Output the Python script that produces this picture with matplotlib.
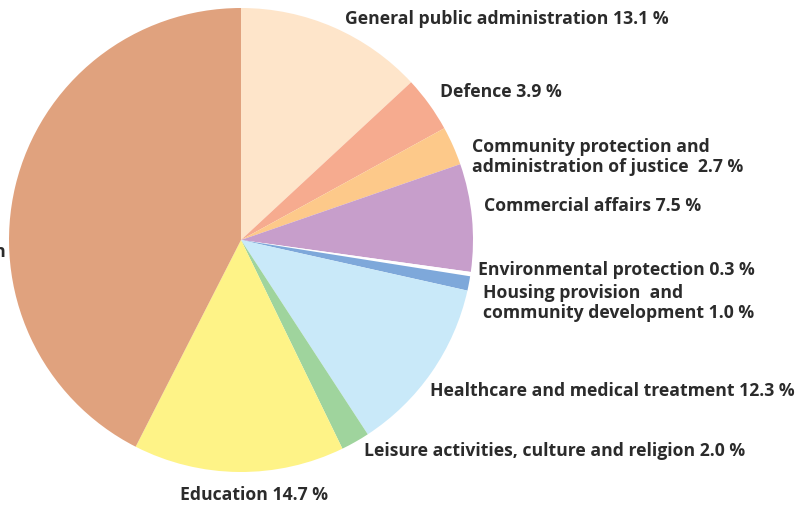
import matplotlib
matplotlib.use("Agg")
import matplotlib.pyplot as plt

categories = [
    "General public administration",
    "Defence",
    "Community protection and\nadministration of justice ",
    "Commercial affairs",
    "Environmental protection",
    "Housing provision  and\ncommunity development",
    "Healthcare and medical treatment",
    "Leisure activities, culture and religion",
    "Education",
    "Social protection\n",
]
values = [13.1, 3.9, 2.7, 7.5, 0.3, 1.0, 12.3, 2.0, 14.7, 42.5]
colors = ["#FEE5CA", "#F6AB8F", "#FDC98A", "#C79ECB", "#FFFFFF",
          "#7EA8DA", "#C9E9F9", "#9FD49D", "#FEF387", "#E0A27E"]

W, H = 797, 507
fig = plt.figure(figsize=(W / 100, H / 100), dpi=100)
ax = fig.add_axes([0, 0, 1, 1])
ax.axis("off")

cx, cy, r = 241, H - 240, 232
ax.pie(values, colors=colors, startangle=90, counterclock=False,
       center=(cx, cy), radius=r, wedgeprops=dict(linewidth=0))
ax.set_xlim(0, W)
ax.set_ylim(0, H)
ax.set_aspect("equal")

# label anchor positions (x, center y in pixels from top)
label_pos = [(345, 19), (440, 92), (472, 157), (484, 206), (478, 270),
             (483, 303), (430, 391), (364, 451), (180, 495), (6, 262)]
tc = "#2b2b2b"
for cat, v, (lx, ly) in zip(categories, values, label_pos):
    txt = f"{cat} {v:.1f} %"
    ha = "right" if cat.startswith("Social") else "left"
    ax.text(lx, H - ly, txt, ha=ha, va="center", fontsize=12.7,
            fontweight="bold", color=tc, family="Open Sans",
            linespacing=1.2, multialignment="left", clip_on=False)

fig.savefig("out.png", dpi=100)
